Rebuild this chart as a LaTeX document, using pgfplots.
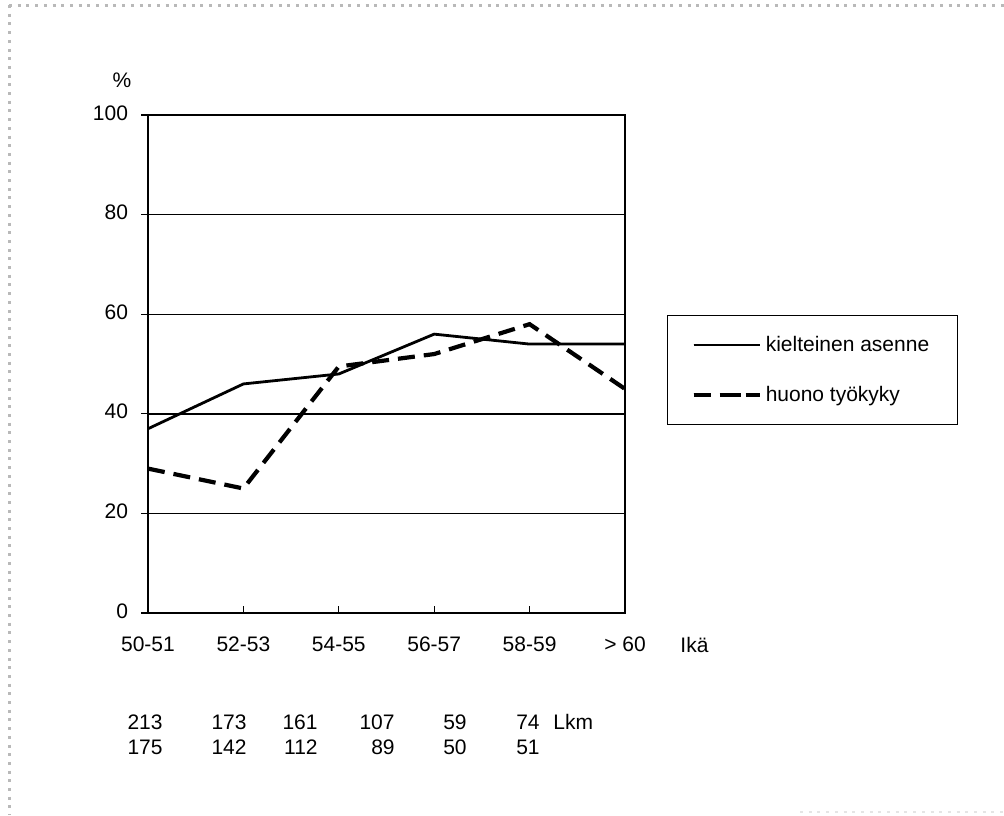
\documentclass[border=0pt]{standalone}
\usepackage{pgfplots}
\pgfplotsset{compat=1.18}
\usepackage{fontspec}
\setmainfont{Liberation Sans}
\begin{document}
\begin{tikzpicture}[font=\fontsize{10.5pt}{12.6pt}\selectfont]
% page extent (1 px = 0.5 pt, origin at top-left)
\path[use as bounding box] (0,0) rectangle (502pt,-407.5pt);
% dotted frame
\draw[gray!55, line width=1.5pt, dash pattern=on 1.5pt off 2.85pt] (4.5pt,-2.5pt) -- (502pt,-2.5pt);
\draw[gray!55, line width=1.5pt, dash pattern=on 1.5pt off 2.85pt] (4.5pt,-2.5pt) -- (4.5pt,-407.5pt);
\draw[gray!20, line width=1.2pt, dash pattern=on 1.5pt off 2.85pt] (400pt,-406pt) -- (502pt,-406pt);
\begin{axis}[
  at={(74pt,-306.5pt)}, anchor=south west,
  scale only axis, width=238.5pt, height=249pt,
  xmin=0, xmax=5, ymin=0, ymax=100,
  xtick={0,1,2,3,4,5},
  xticklabels={50-51,52-53,54-55,56-57,58-59,{> 60}},
  ytick={0,20,40,60,80,100},
  tick pos=left,
  xtick align=inside, ytick align=outside,
  major tick length=3.5pt,
  tick style={black, line width=0.6pt},
  axis line style={black, line width=0.8pt},
  ymajorgrids, grid style={black, line width=0.7pt},
  typeset ticklabels with strut,
  xticklabel style={yshift=-7pt},
  yticklabel style={xshift=-3pt},
  /pgf/number format/assume math mode=true,
  ticklabel style={font=\fontsize{10.5pt}{12.6pt}\selectfont},
  clip=false,
  legend style={at={(1.088,0.598)}, anchor=north west, draw=black, line width=0.6pt,
    inner xsep=12pt, inner ysep=8pt, row sep=12pt,
    font=\fontsize{10.5pt}{12.6pt}\selectfont,
    cells={anchor=west}},
]
\addplot[black, line width=1.4pt,
  legend image code/.code={\draw[black, line width=1.4pt] (0pt,0pt) -- (29pt,0pt); \path (0pt,0pt) -- (33pt,0pt);}]
  coordinates {(0,37) (1,46) (2,48) (3,56) (4,54) (5,54)};
\addlegendentry{kielteinen asenne}
\addplot[black, line width=2.1pt, dash pattern=on 8.5pt off 4.5pt,
  legend image code/.code={\draw[black, line width=2.1pt, dash pattern=on 8.5pt off 6.5pt] (0pt,0pt) -- (24pt,0pt); \path (0pt,0pt) -- (33pt,0pt);}]
  coordinates {(0,29) (1,25) (2,49.5) (3,52) (4,58) (5,45)};
\addlegendentry{huono työkyky}
\end{axis}
% labels
\node at (61pt,-40pt) {\%};
\node[anchor=base west, inner sep=0pt] at (340pt,-326pt) {Ikä};
% counts
\foreach \x/\a/\b in {81.5/213/175, 123.5/173/142, 159/161/112, 197.5/107/89, 233.5/59/50, 270/74/51}{
  \node[anchor=base east, inner sep=0pt] at (\x pt,-364.5pt) {\a};
  \node[anchor=base east, inner sep=0pt] at (\x pt,-377pt) {\b};
}
\node[anchor=base west, inner sep=0pt] at (276.5pt,-364.5pt) {Lkm};
\end{tikzpicture}
\end{document}
